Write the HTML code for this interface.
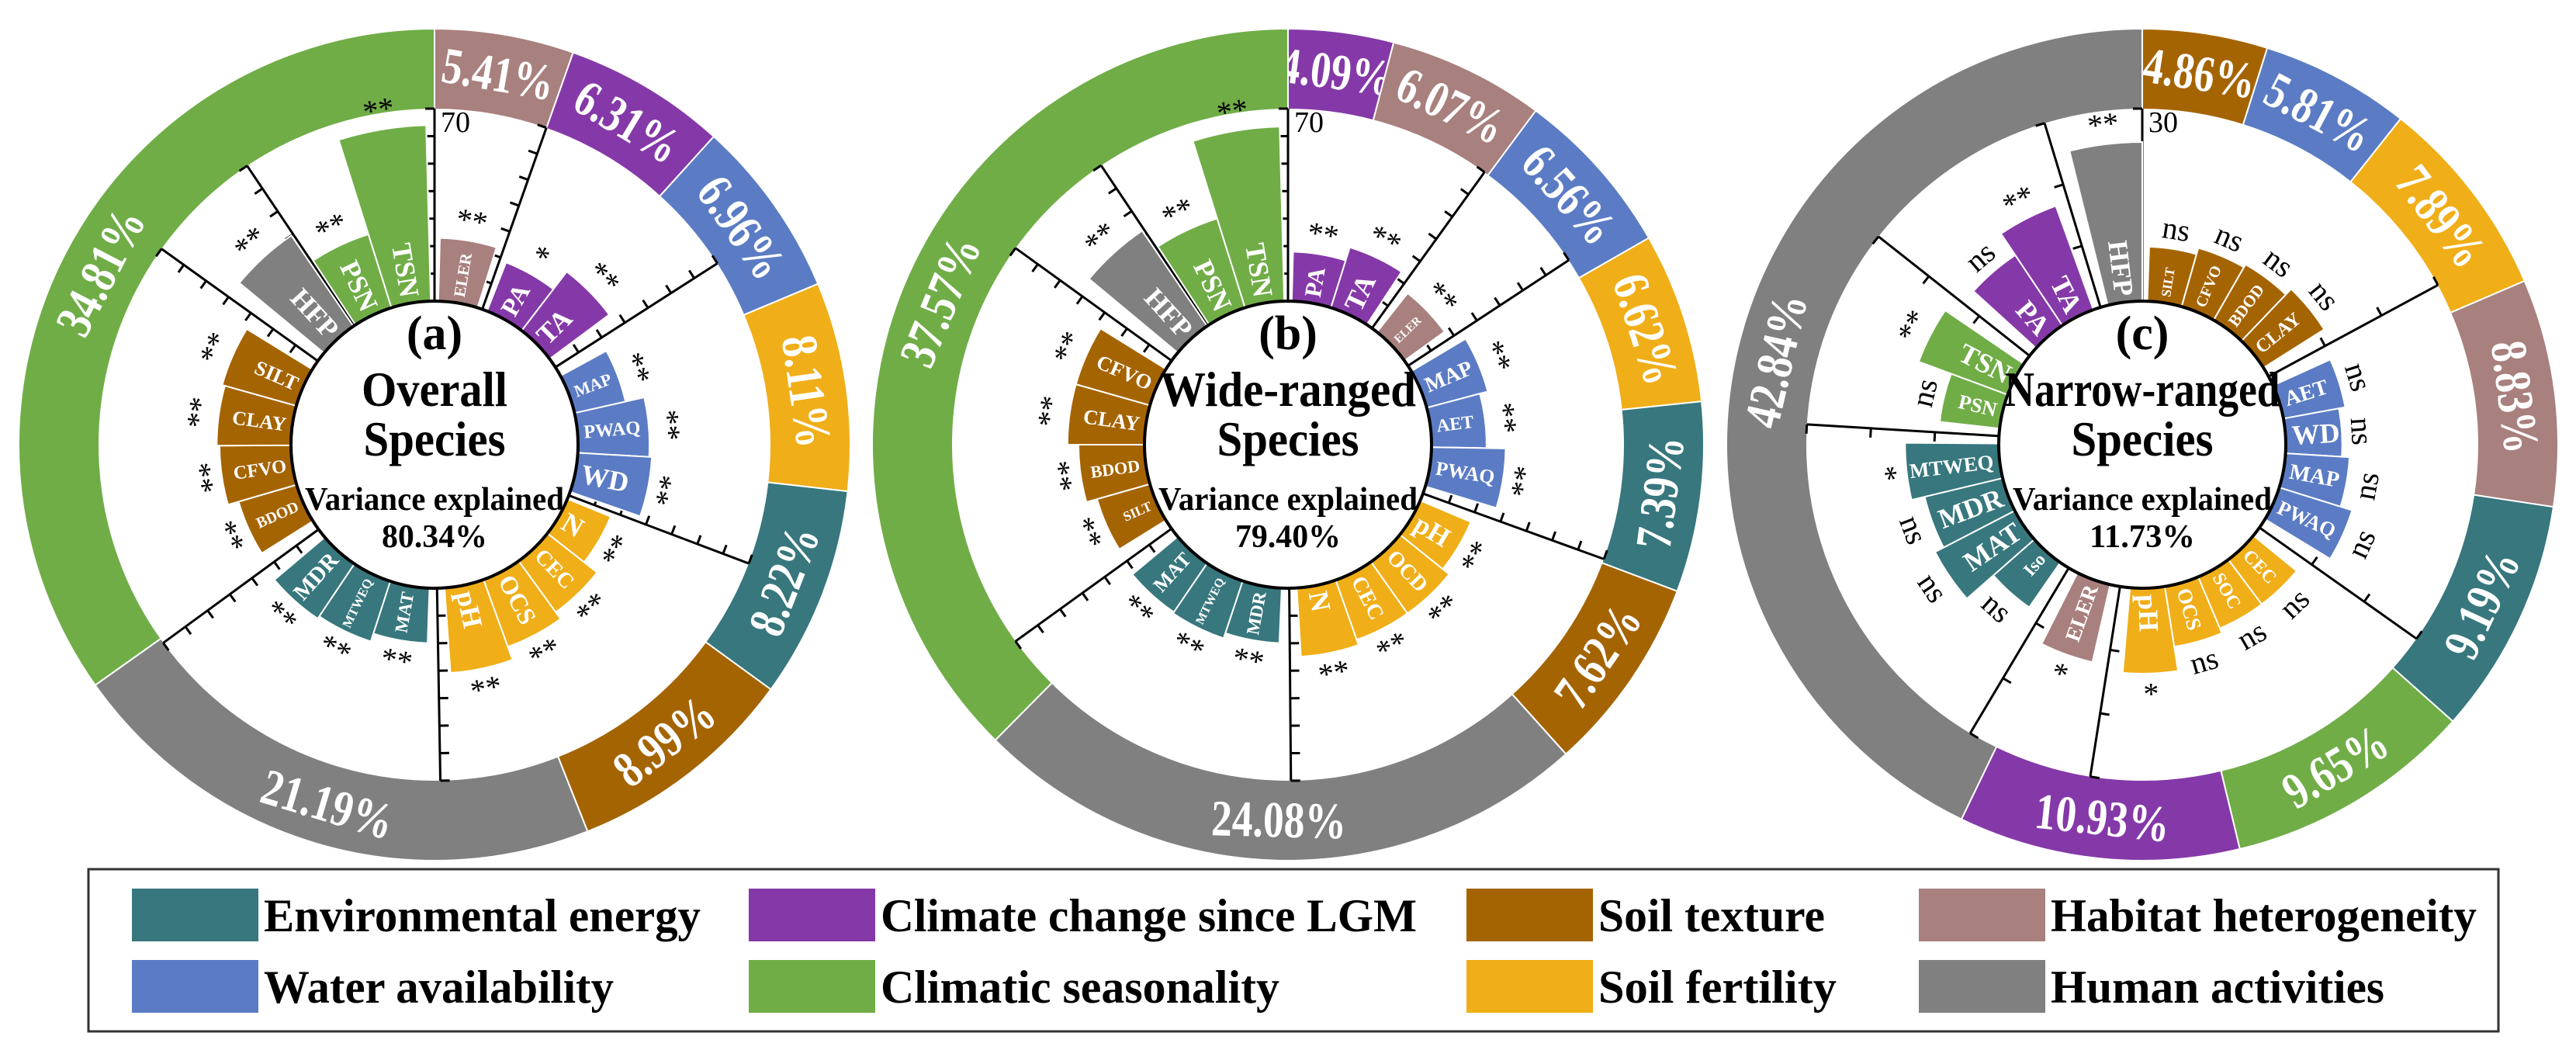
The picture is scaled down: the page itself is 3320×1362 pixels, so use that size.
<!DOCTYPE html>
<html><head><meta charset="utf-8"><style>
html,body{margin:0;padding:0;background:#fff;}
svg, svg text{font-family:"Liberation Serif","DejaVu Serif","Noto Serif CJK SC",serif;}
</style></head><body>
<svg id="fig" width="3320" height="1357" viewBox="0 0 3320 1357" xmlns="http://www.w3.org/2000/svg">
<g id="legend">
<rect x="114" y="1120" width="3106" height="209" fill="#fff" stroke="#333" stroke-width="3"/>
</g>
</svg>
<script>
// ---- chart (a) data ----
const catsA = ['ELER','PA','TA','MAP','PWAQ','WD','N','CEC','OCS','pH','MAT','MTWEQ','MDR','BDOD','CFVO','CLAY','SILT','HFP','PSN','TSN'];
const valsA = [23,19,27,19,26,27,17,23,26,31,20,23,24,22,26,27,28,40,28,64];
const sigA = ['**','*','**','**','**','**','**','**','**','**','**','**','**','**','**','**','**','**','**','**'];
const grpA = ['hab','clim','clim','wat','wat','wat','fert','fert','fert','fert','ener','ener','ener','tex','tex','tex','tex','hum','seas','seas'];
const ringGrpA = ['hab','clim','wat','fert','ener','tex','hum','seas'];
const ringPctA = [5.41,6.31,6.96,8.11,8.22,8.99,21.19,34.81];
// ---- chart (b) data ----
const catsB = ['PA','TA','ELER','MAP','AET','PWAQ','pH','OCD','CEC','N','MDR','MTWEQ','MAT','SILT','BDOD','CLAY','CFVO','HFP','PSN','TSN'];
const valsB = [18,23,18,23,20,27,20,23,23,25,20,22,21.5,20,24,28,28,42,34,63.5];
const sigB = ['**','**','**','**','**','**','**','**','**','**','**','**','**','**','**','**','**','**','**','**'];
const grpB = ['clim','clim','hab','wat','wat','wat','fert','fert','fert','fert','ener','ener','ener','tex','tex','tex','tex','hum','seas','seas'];
const ringGrpB = ['clim','hab','wat','fert','ener','tex','hum','seas'];
const ringPctB = [4.09,6.07,6.56,6.62,7.39,7.62,24.08,37.57];
// ---- chart (c) data ----
const catsC = ['SILT','CFVO','BDOD','CLAY','AET','WD','MAP','PWAQ','CEC','SOC','OCS','pH','ELER','Iso','MAT','MDR','MTWEQ','PSN','TSN','PA','TA','HFP'];
const valsC = [8.5,9.5,10,11.2,9.8,8.8,10,11.9,8.7,8.7,9.5,13.3,12.4,8.5,14,12.5,14.6,9.4,14.8,13.2,17.2,24.8];
const sigC = ['ns','ns','ns','ns','ns','ns','ns','ns','ns','ns','ns','*','*','ns','ns','ns','*','ns','**','ns','**','**'];
const grpC = ['tex','tex','tex','tex','wat','wat','wat','wat','fert','fert','fert','fert','hab','ener','ener','ener','ener','seas','seas','clim','clim','hum'];
const ringGrpC = ['tex','wat','fert','hab','ener','seas','clim','hum'];
const ringPctC = [4.86,5.81,7.89,8.83,9.19,9.65,10.93,42.84];
// legend
const legendLabels = ['Environmental energy','Climate change since LGM','Soil texture','Habitat heterogeneity','Water availability','Climatic seasonality','Soil fertility','Human activities'];
const legendGroups = ['ener','clim','tex','hab','wat','seas','fert','hum'];
const legendWidths = [563,691,292,549,451,514,307,430];

const FONT = '"Liberation Serif", "DejaVu Serif", "Noto Serif CJK SC", serif';
const COL = {ener:'#37777d',clim:'#8539a8',tex:'#a56402',hab:'#a8807e',wat:'#5b7cc4',seas:'#70ad47',fert:'#f0ae18',hum:'#808080'};
const NS = 'http://www.w3.org/2000/svg';
const svg = document.getElementById('fig');
function mk(tag, attrs, parent){const e=document.createElementNS(NS,tag);for(const k in attrs)e.setAttribute(k,attrs[k]);if(tag==='text')e.style.fontFamily=FONT;(parent||svg).appendChild(e);return e;}
function pt(cx,cy,r,a){const t=a*Math.PI/180;return [cx+r*Math.sin(t), cy-r*Math.cos(t)];}
function sector(cx,cy,r1,r2,a1,a2){
  const p1=pt(cx,cy,r2,a1),p2=pt(cx,cy,r2,a2),p3=pt(cx,cy,r1,a2),p4=pt(cx,cy,r1,a1);
  const lg=(a2-a1)>180?1:0;
  return `M${p1[0]},${p1[1]} A${r2},${r2} 0 ${lg} 1 ${p2[0]},${p2[1]} L${p3[0]},${p3[1]} A${r1},${r1} 0 ${lg} 0 ${p4[0]},${p4[1]} Z`;
}
function tangRot(a){a=((a%360)+360)%360;return (a>90&&a<270)?a-180:(a>=270?a-360:a);}

function drawChart(o){
  const g=mk('g',{});
  
  
  const cx=o.cx, cy=o.cy, r0=185, rMax=433, rIn=432, rOut=536;
  const rS=v=>r0+v/o.max*(rMax-r0);
  let acc=0;
  o.ringPct.forEach((p,i)=>{
    const a1=acc/100*360, a2=(acc+p)/100*360; acc+=p;
    const s=mk('path',{d:sector(cx,cy,rIn,rOut,a1,a2),fill:COL[o.ringGrp[i]],stroke:'#fff','stroke-width':2},g);
    
    
    const am=(a1+a2)/2, q=pt(cx,cy,(rIn+rOut)/2,am);
    const lab=p.toFixed(2)+'%';
    const t=mk('text',{x:q[0],y:q[1],'text-anchor':'middle','dominant-baseline':'central','font-size':66,'font-weight':'bold',fill:'#fff',textLength:lab.length*29,lengthAdjust:'spacingAndGlyphs',transform:`rotate(${tangRot(am)} ${q[0]} ${q[1]})`},g);
    t.textContent=lab;
    
    
  });
  const gapSum=o.gaps.reduce((s,x)=>s+x,0)+o.trail;
  const w=(360-gapSum)/o.cats.length;
  let cur=0; const ang=[];
  o.cats.forEach((c,i)=>{cur+=o.gaps[i];ang.push([cur,cur+w]);cur+=w;});
  const grid=[0];
  for(let i=1;i<o.cats.length;i++){ if(o.grp[i]!==o.grp[i-1]) grid.push(ang[i][0]-o.gaps[i]/2); }
  grid.forEach((a,k)=>{
    const p1=pt(cx,cy,r0,a),p2=pt(cx,cy,rMax,a);
    const l=mk('line',{x1:p1[0],y1:p1[1],x2:p2[0],y2:p2[1],stroke:'#000','stroke-width':3},g);
    
    
    for(let v=10;v<=o.max;v+=10){
      const a0=pt(cx,cy,rS(v),a);
      const tx=a0[0]-12*Math.cos(a*Math.PI/180), ty=a0[1]-12*Math.sin(a*Math.PI/180);
      const tk=mk('line',{x1:a0[0],y1:a0[1],x2:tx,y2:ty,stroke:'#000','stroke-width':3},g);
      
      
    }
  });
  const ml=mk('text',{x:cx+8,y:cy-rMax+30,'font-size':38,fill:'#000'},g);
  ml.textContent=String(o.max);
  
  
  o.cats.forEach((c,i)=>{
    const [a1,a2]=ang[i], top=rS(o.vals[i]);
    const b=mk('path',{d:sector(cx,cy,r0,top,a1,a2),fill:COL[o.grp[i]],stroke:'#fff','stroke-width':2},g);
    
    
    const am=(a1+a2)/2, len=top-r0;
    const fs=Math.max(15,Math.min(36,(len-16)/(c.length*0.78)));
    const q=pt(cx,cy,r0+8,am);
    const right=am<180;
    const t=mk('text',{x:q[0],y:q[1],'text-anchor':right?'start':'end','dominant-baseline':'central','font-size':fs.toFixed(1),'font-weight':'bold',fill:'#fff',transform:`rotate(${right?am-90:am-270} ${q[0]} ${q[1]})`},g);
    t.textContent=c;
    
    
    const s=pt(cx,cy,top+26,am);
    const st=mk('text',{x:s[0],y:s[1],'text-anchor':'middle','dominant-baseline':'central','font-size':40,fill:'#000',transform:`rotate(${tangRot(am)} ${s[0]} ${s[1]})`},g);
    st.textContent=o.sig[i];
    
    
  });
  const ci=mk('circle',{cx:cx,cy:cy,r:r0,fill:'#fff',stroke:'#000','stroke-width':4},g);
  
  
  const lines=[[o.tag,-123,62,null],[o.t1,-50,64,o.w1],[o.t2,14,64,183],['Variance explained',84,42,334],[o.ve,132,42,136]];
  lines.forEach((L,k)=>{
    const a={x:cx,y:cy+L[1],'text-anchor':'middle','font-size':L[2],'font-weight':'bold',fill:'#000'};
    if(L[3]){a.textLength=L[3];a.lengthAdjust='spacingAndGlyphs';}
    const t=mk('text',a,g); t.textContent=L[0];
    
    
  });
}
drawChart({name:'chart-overall',cx:560,cy:573,max:70,cats:catsA,vals:valsA,sig:sigA,grp:grpA,ringGrp:ringGrpA,ringPct:ringPctA,
  gaps:[1.5,4,0,8,0,0,3,0,0,0,6,0,0,8,0,0,0,8,1,0],trail:1.5,tag:'(a)',t1:'Overall',w1:188,t2:'Species',ve:'80.34%'});
drawChart({name:'chart-wide-ranged',cx:1660,cy:573,max:70,cats:catsB,vals:valsB,sig:sigB,grp:grpB,ringGrp:ringGrpB,ringPct:ringPctB,
  gaps:[1.5,0,5,5,0,0,6,0,0,0,6,0,0,8,0,0,0,8,1,0],trail:1.5,tag:'(b)',t1:'Wide-ranged',w1:330,t2:'Species',ve:'79.40%'});
drawChart({name:'chart-narrow-ranged',cx:2761,cy:573,max:30,cats:catsC,vals:valsC,sig:sigC,grp:grpC,ringGrp:ringGrpC,ringPct:ringPctC,
  gaps:[2,0,0,0,8,0,0,0,8,0,0,0,8,8,0,0,0,6,0,8,0,6],trail:0,tag:'(c)',t1:'Narrow-ranged',w1:355,t2:'Species',ve:'11.73%'});

const lg=document.getElementById('legend');
const colX=[170,965,1890,2473], rowY=[1145,1237];
legendLabels.forEach((lab,i)=>{
  const x=colX[i%4], y=rowY[Math.floor(i/4)];
  const r=mk('rect',{x:x,y:y,width:163,height:68,fill:COL[legendGroups[i]]},lg);
  
  
  const t=mk('text',{x:x+170,y:y+55,'font-size':60,'font-weight':'bold',fill:'#000',textLength:legendWidths[i],lengthAdjust:'spacingAndGlyphs'},lg);
  t.textContent=lab;
  
  
});
</script>
</body></html>
